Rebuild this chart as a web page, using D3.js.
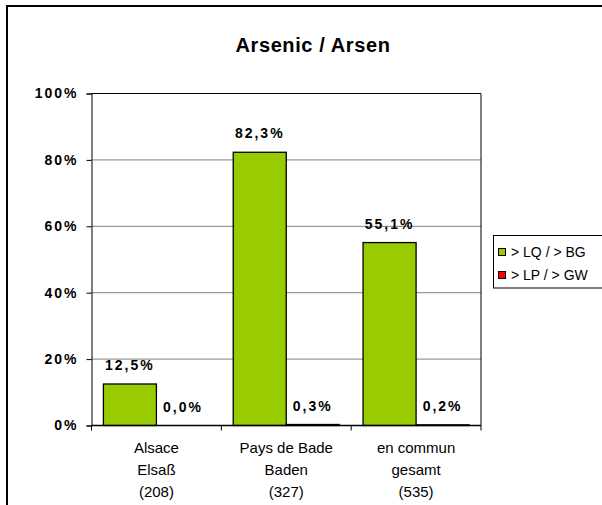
<!DOCTYPE html>
<html>
<head>
<meta charset="utf-8">
<script src="https://cdn.jsdelivr.net/npm/d3@7"></script>
<style>
  html, body { margin: 0; padding: 0; background: #fff; }
  svg { display: block; font-family: Arial, "Liberation Sans", sans-serif; }
</style>
</head>
<body>
<svg id="chart" width="602" height="505"></svg>
<script>
// Chart content
const title = "Arsenic / Arsen";
const categories = [
  ["Alsace", "Elsaß", "(208)"],
  ["Pays de Bade", "Baden", "(327)"],
  ["en commun", "gesamt", "(535)"]
];
const seriesNames = ["> LQ / > BG", "> LP / > GW"];
const seriesColors = ["#99CC00", "#FF0000"];
const aboveLQ = [12.5, 82.3, 55.1];   // % of samples > LQ / > BG
const aboveLP = [0.0, 0.3, 0.2];      // % of samples > LP / > GW
const yTicks = [0, 20, 40, 60, 80, 100];

const series = [aboveLQ, aboveLP];

const svg = d3.select("#chart");

// Outer chart frame
svg.append("rect")
  .attr("x", 7).attr("y", 6)
  .attr("width", 640).attr("height", 540)
  .attr("fill", "#fff").attr("stroke", "#000").attr("stroke-width", 2);

// Title
svg.append("text")
  .attr("x", 313).attr("y", 52)
  .attr("text-anchor", "middle")
  .attr("font-size", 20).attr("font-weight", "bold")
  .attr("letter-spacing", 0.6)
  .text(title);

const plot = { left: 91.5, right: 481, top: 93.5, bottom: 425.5 };

const x = d3.scaleBand()
  .domain(d3.range(categories.length))
  .range([plot.left, plot.right])
  .paddingInner(0).paddingOuter(0);

const xs = d3.scaleBand()
  .domain(d3.range(series.length))
  .range([0, x.bandwidth()])
  .paddingInner(0).paddingOuter(0.2245);

const y = d3.scaleLinear().domain([0, 100]).range([plot.bottom, plot.top]);

// Gridlines
svg.append("g")
  .selectAll("line")
  .data(yTicks.filter(t => t > 0 && t < 100))
  .join("line")
  .attr("x1", plot.left).attr("x2", plot.right)
  .attr("y1", d => y(d)).attr("y2", d => y(d))
  .attr("stroke", "#808080").attr("stroke-width", 1);

// Plot area border (top and right)
svg.append("path")
  .attr("d", `M${plot.left},${y(100)}H${plot.right}V${plot.bottom}`)
  .attr("fill", "none").attr("stroke", "#000").attr("stroke-width", 1);

// Bars
const fmt = v => v.toFixed(1).replace(".", ",") + "%";

series.forEach((vals, si) => {
  const g = svg.append("g");
  g.selectAll("rect")
    .data(vals)
    .join("rect")
    .attr("x", (d, i) => x(i) + xs(si))
    .attr("y", d => y(d))
    .attr("width", xs.bandwidth())
    .attr("height", d => y(0) - y(d))
    .attr("fill", seriesColors[si])
    .attr("stroke", "#000").attr("stroke-width", 1.3);

  g.selectAll("text")
    .data(vals)
    .join("text")
    .attr("x", (d, i) => x(i) + xs(si) + xs.bandwidth() / 2)
    .attr("y", d => y(d) - 14)
    .attr("text-anchor", "middle")
    .attr("font-size", 14).attr("font-weight", "bold")
    .attr("letter-spacing", 2)
    .text(d => fmt(d));
});

// Y axis
const yAxis = d3.axisLeft(y)
  .tickValues(yTicks)
  .tickSize(5)
  .tickFormat(d => d + "%");
const gy = svg.append("g")
  .attr("transform", `translate(${plot.left},0)`)
  .call(yAxis);
gy.select(".domain").attr("stroke", "#000");
gy.selectAll(".tick line").attr("stroke", "#000");
gy.selectAll(".tick text")
  .attr("x", -13)
  .attr("font-size", 14).attr("font-weight", "bold")
  .attr("letter-spacing", 2)
  .attr("fill", "#000")
  .attr("font-family", "Arial, 'Liberation Sans', sans-serif");

// X axis: ticks at category boundaries
const gx = svg.append("g");
gx.append("line")
  .attr("x1", plot.left).attr("x2", plot.right)
  .attr("y1", plot.bottom).attr("y2", plot.bottom)
  .attr("stroke", "#000").attr("stroke-width", 1.3);
gx.selectAll("line.tick")
  .data(d3.range(categories.length + 1))
  .join("line")
  .attr("class", "tick")
  .attr("x1", i => i < categories.length ? x(i) : plot.right)
  .attr("x2", i => i < categories.length ? x(i) : plot.right)
  .attr("y1", plot.bottom).attr("y2", plot.bottom + 5)
  .attr("stroke", "#000");

const catLabels = gx.selectAll("text.cat")
  .data(categories)
  .join("text")
  .attr("class", "cat")
  .attr("text-anchor", "middle")
  .attr("font-size", 15);
catLabels.selectAll("tspan")
  .data((d, i) => d.map(line => ({ line, i })))
  .join("tspan")
  .attr("x", d => x(d.i) + x.bandwidth() / 2)
  .attr("y", (d, j) => 453 + j * 22)
  .text(d => d.line);

// Legend
const legend = svg.append("g");
legend.append("rect")
  .attr("x", 493.5).attr("y", 235.5)
  .attr("width", 130).attr("height", 52.5)
  .attr("fill", "#fff").attr("stroke", "#000").attr("stroke-width", 1);
seriesNames.forEach((name, i) => {
  const cy = 252 + i * 23;
  legend.append("rect")
    .attr("x", 498.5).attr("y", cy - 3.5)
    .attr("width", 7).attr("height", 7)
    .attr("fill", seriesColors[i])
    .attr("stroke", "#000").attr("stroke-width", 1);
  legend.append("text")
    .attr("x", 511).attr("y", cy + 5)
    .attr("font-size", 14)
    .text(name);
});
</script>
</body>
</html>
